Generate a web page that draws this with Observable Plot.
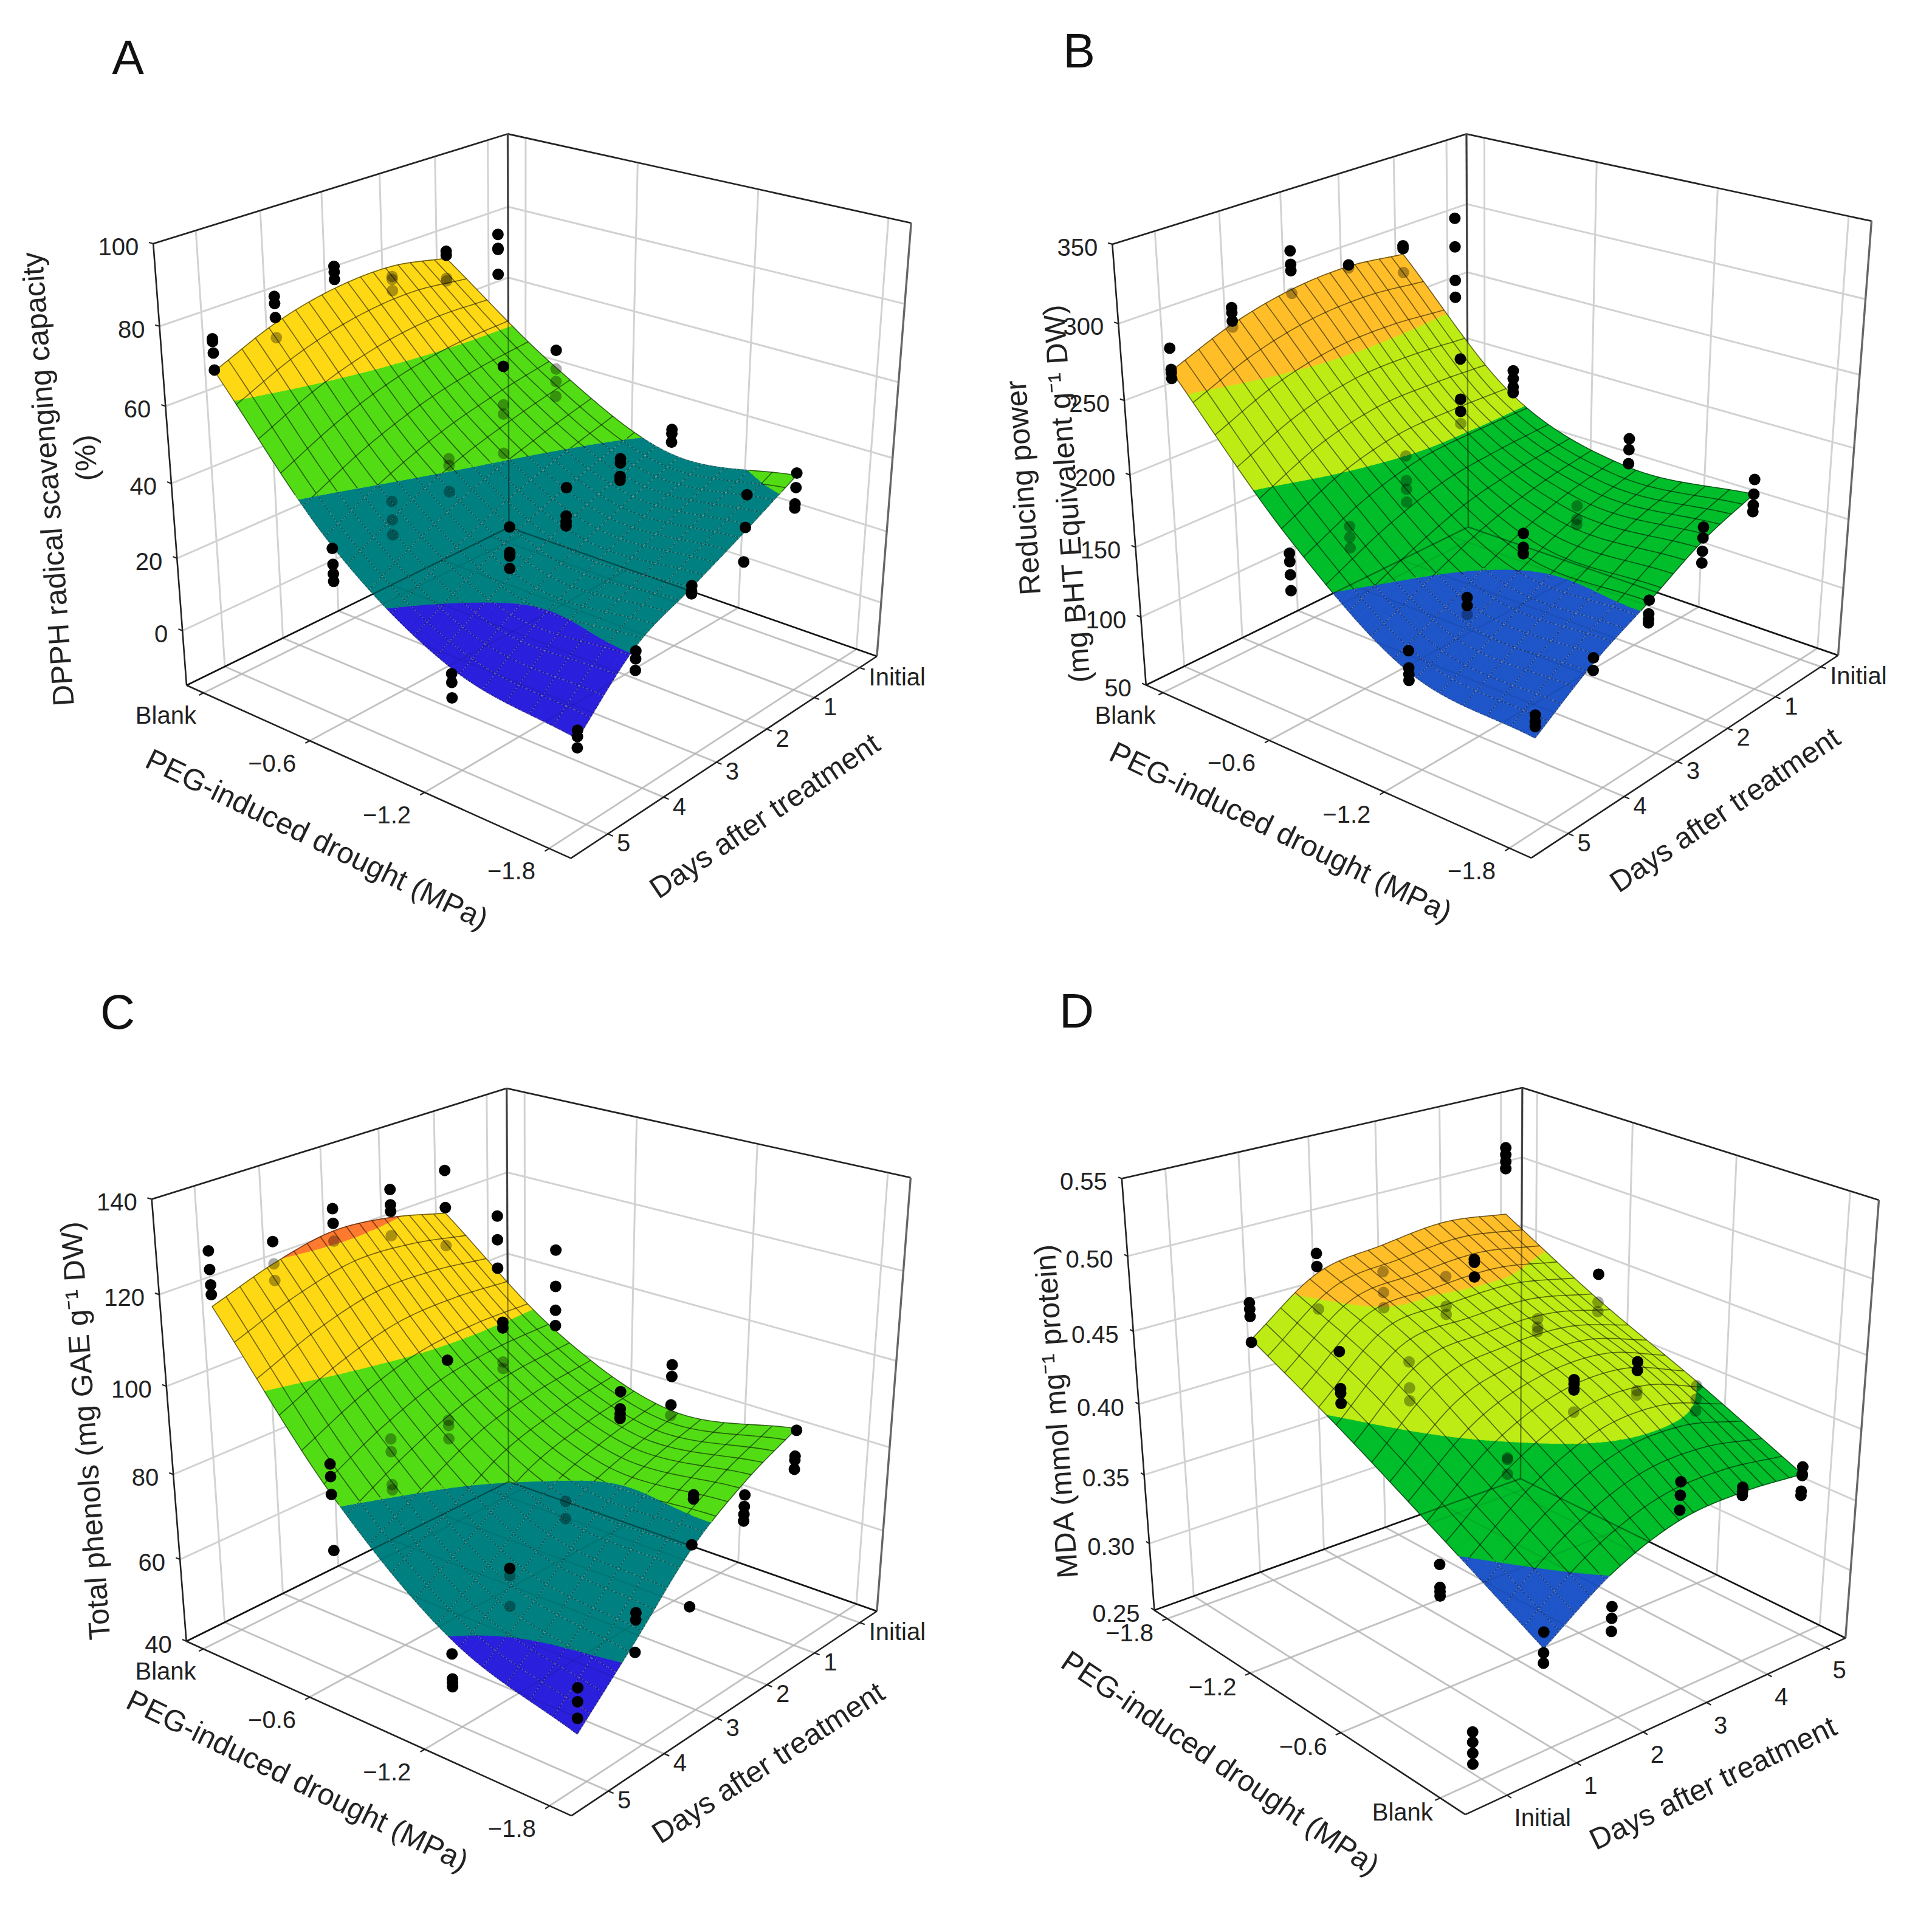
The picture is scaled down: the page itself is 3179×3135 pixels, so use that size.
<!DOCTYPE html>
<html>
<head>
<meta charset="utf-8">
<script src="https://cdn.jsdelivr.net/npm/d3@7"></script>
<script src="https://cdn.jsdelivr.net/npm/@observablehq/plot@0.6"></script>
<style>
html,body{margin:0;padding:0;background:#fff;}
#grid{display:flex;flex-wrap:wrap;width:3179px;}
#grid svg{display:block;}
</style>
</head>
<body>
<div id="grid"></div>
<script>
// shared tick values and labels
const droughtLevels = [0, -0.6, -1.2, -1.8];
const dayLevels = [1, 2, 3, 4, 5];
const droughtTicks = [0, -0.6, -1.2, -1.8];
const droughtLabels = ["Blank", "−0.6", "−1.2", "−1.8"];
const dayTicks = [0, 1, 2, 3, 4, 5];
const dayLabels = ["Initial", "1", "2", "3", "4", "5"];

// fitted surfaces: one row per day (1..5), one column per drought level
const surfaceA = [
  [73.5, 52, 38, 42.5],
  [76.5, 49, 33, 35],
  [76, 45, 27, 28],
  [72.5, 39, 20, 21],
  [66, 31, 11, 6]
];
const surfaceB = [
  [284, 205, 179, 187],
  [289, 206, 170, 174],
  [287, 205, 155, 153],
  [278, 195, 135, 133],
  [262, 176, 116, 106]
];
const surfaceC = [
  [117, 96.5, 86, 90.7],
  [120.5, 96, 83, 85],
  [122, 94, 78, 76.5],
  [119.5, 89, 68, 63],
  [115, 82, 59.5, 50]
];
const surfaceD = [
  [0.319, 0.357, 0.394, 0.427],
  [0.351, 0.394, 0.435, 0.460],
  [0.3685, 0.4145, 0.440, 0.4675],
  [0.371, 0.416, 0.440, 0.472],
  [0.367, 0.400, 0.430, 0.466]
];

// measured replicates: [drought, day, values]
const pointsA = [
  [0,5,[74.2,73.5,70.6,66.3]],[0,4,[79.3,77.5,73.9,68.7]],[0,3,[81.7,80.2,78.3]],[0,2,[73.8,73,70]],[0,1,[75.4,74.3,68,67.3]],[0,0,[75,71.1,70.8,63.8]],
  [-0.6,5,[30.4,26.2,23.7,21.7]],[-0.6,4,[35.5,30.6,26.6]],[-0.6,3,[40,38.2,31.1]],[-0.6,2,[58.3,48,45.5,34.8]],[-0.6,1,[56.7,51.6,48.2,44.1]],
  [-1.2,5,[9.6,7.3,3.2]],[-1.2,4,[39.7,33.2,32.2,29]],[-1.2,3,[42.7,35.3,33.8,32.7]],[-1.2,2,[43.4,42.3,38.7,37.7]],[-1.2,1,[44.6,43.5,41.2]],
  [-1.8,5,[8.2,6.6,3.7]],[-1.8,4,[19.8,17.8,14.8]],[-1.8,3,[28.5,27.1,26.4]],[-1.8,2,[44.4,36,27]],[-1.8,1,[43.1,39.3,35,33.9]]
];
const pointsB = [
  [0,5,[277,263,261,257]],[0,4,[289,285.6,280,276]],[0,3,[313,304,299.7,284.3]],[0,2,[290,288]],[0,1,[290,288,271]],[0,0,[296.6,276,251.5,239]],
  [-0.6,5,[165.7,160,151,140]],[-0.6,4,[165,157.5,150]],[-0.6,3,[195.8,178.5,172.5,163.4]],[-0.6,2,[246.5,218.6,210,201.4]],[-0.6,1,[222.7,217,211,207]],
  [-1.2,5,[130.5,118.8,114.5,110.3]],[-1.2,4,[145.5,140,134]],[-1.2,3,[169.6,160,155.6]],[-1.2,2,[169.8,160.4,156.7]],[-1.2,1,[199,191.4,181.5]],
  [-1.8,5,[121.3,117,113.7]],[-1.8,4,[136.7,128.3]],[-1.8,3,[154,144.8,141.2,138.7]],[-1.8,2,[183.3,176,167,159]],[-1.8,1,[197,187,179.5,175]]
];
const pointsC = [
  [0,5,[127,123,119.7,117.6]],[0,4,[124.3,119.4,115.7]],[0,3,[127,123.7,119.7]],[0,2,[126.9,123.4,121.9,116.3]],[0,1,[127,118.3,109.3]],[0,0,[111.8,106,99]],
  [-0.6,5,[88.8,86,82,69.2]],[-0.6,4,[88.3,85.4,77.8,76.6]],[-0.6,3,[100.4,86.6,85.4,82.3]],[-0.6,2,[103.7,102.4,94.5,93]],[-0.6,1,[115.3,106.9,101.3,97.7]],
  [-1.2,5,[56.3,50.5,49.6,48.7]],[-1.2,4,[68.6,66.9,59.8]],[-1.2,3,[77.2,73.2]],[-1.2,2,[96.1,92.2,91,90]],[-1.2,1,[96.6,93.9,87.3,84.8]],
  [-1.8,5,[60.4,57.3,53.6]],[-1.8,4,[69.4,67.8,60.5]],[-1.8,3,[88.4,87.5,77.4,63.4]],[-1.8,2,[81.9,79.3,77.5,76]],[-1.8,1,[90.3,84.4,83.5,81.4]]
];
const pointsD = [
  [-1.8,1,[0.4525,0.448,0.443,0.425]],[-1.8,2,[0.4738,0.4648,0.4348]],[-1.8,3,[0.4485,0.4335,0.4225]],[-1.8,4,[0.4323,0.4103,0.4043]],[-1.8,5,[0.514,0.509,0.504,0.499]],
  [-1.2,1,[0.448,0.423,0.42,0.413]],[-1.2,2,[0.4268,0.4088,0.3998]],[-1.2,3,[0.4835,0.4815,0.4715]],[-1.2,4,[0.4293,0.4233,0.4203]],[-1.2,5,[0.448,0.428,0.421]],
  [-0.6,1,[0.337,0.321,0.318,0.315]],[-0.6,2,[0.3928,0.3918,0.3818]],[-0.6,3,[0.4305,0.4275,0.4235,0.4085]],[-0.6,4,[0.4283,0.4223,0.4083,0.4053]],[-0.6,5,[0.397,0.3875,0.379]],
  [0,0,[0.283,0.276,0.2685,0.261]],[0,1,[0.33,0.316,0.309]],[0,2,[0.328,0.32,0.311]],[0,3,[0.3945,0.3855,0.3755]],[0,4,[0.3743,0.3713,0.3688]],[0,5,[0.372,0.367,0.366,0.355,0.352]]
];

// value ticks
const valueTicksA = [0, 20, 40, 60, 80, 100];
const valueTicksB = [50, 100, 150, 200, 250, 300, 350];
const valueTicksC = [40, 60, 80, 100, 120, 140];
const valueTicksD = [0.25, 0.30, 0.35, 0.40, 0.45, 0.50, 0.55];

const blue1 = "#2a1fdc", teal = "#008080", green1 = "#52dc14", yellow = "#ffd814", orange1 = "#ff7a2e";
const blue2 = "#1e55c8", green2 = "#00bd2a", lime = "#bdec14", orange2 = "#ffbe28";

// corner order: left-bottom, front-bottom, right-bottom, back-bottom, left-top, right-top, back-top
const panels = [
  {letter:"A", origin:[0,0], size:[1590,1568], letterAt:[210,96],
   corners:[[307,1125],[940,1413],[1443,1079],[835,869],[250,402],[1497,366],[838,219]],
   droughtDomain:[0.1,-1.9], daysDomain:[5.633,-0.392], dataDrought:[0.058,-1.942], dataDays:[5.62,-0.404], valueDomain:[-15.5,100],
   surface:surfaceA, points:pointsA, valueTicks:valueTicksA, fmt:d=>String(d),
   thresholds:[20,40,60], colors:[blue1,teal,green1,yellow], dark:40,
   titles:[["DPPH radical scavenging capacity",-201,7],["(%)",-139,-28]],
   droughtTitle:[-81,121,25.8], daysTitle:[48,110,-34],
   droughtLabel:[-62,38], dayLabel:[15,16]},
  {letter:"B", origin:[1590,0], size:[1589,1568], letterAt:[185,85],
   corners:[[1886,1125],[2519,1413],[3025,1076],[2414,869],[1829,402],[3078,364],[2414,219]],
   droughtDomain:[0.1,-1.9], daysDomain:[5.633,-0.392], dataDrought:[0.052,-1.948], dataDays:[5.6,-0.42], valueDomain:[50,350],
   surface:surfaceB, points:pointsB, valueTicks:valueTicksB, fmt:d=>String(d),
   thresholds:[150,200,250], colors:[blue2,green2,lime,orange2], dark:150,
   titles:[["Reducing power",-175,21],["(mg BHT Equivalent g⁻¹ DW)",-103,31]],
   droughtTitle:[-74,110,25.8], daysTitle:[47,101,-34],
   droughtLabel:[-62,38], dayLabel:[15,16]},
  {letter:"C", origin:[0,1568], size:[1590,1567], letterAt:[193,99],
   corners:[[307,2701],[940,2987],[1443,2652],[835,2437],[248,1973],[1497,1937],[835,1791]],
   droughtDomain:[0.1,-1.9], daysDomain:[5.633,-0.392], dataDrought:[0.058,-1.942], dataDays:[5.62,-0.404], valueDomain:[40,140],
   surface:surfaceC, points:pointsC, valueTicks:valueTicksC, fmt:d=>String(d),
   thresholds:[60,80,100,120], colors:[blue1,teal,green1,yellow,orange1], dark:80,
   titles:[["Total phenols (mg GAE g⁻¹ DW)",-138,0]],
   droughtTitle:[-113,96,26], daysTitle:[53,95,-33],
   droughtLabel:[-62,38], dayLabel:[15,16]},
  {letter:"D", origin:[1590,1568], size:[1589,1567], letterAt:[181,97],
   corners:[[1898,2650],[2411,2985],[3035,2696],[2503,2432],[1846,1939],[3092,1974],[2503,1790]],
   droughtDomain:[-1.898,0.143], daysDomain:[-0.575,5.356], dataDrought:[-1.865,0.158], dataDays:[-0.492,5.439], valueDomain:[0.25,0.55],
   surface:surfaceD, points:pointsD, valueTicks:valueTicksD, fmt:d=>d.toFixed(2),
   thresholds:[0.35,0.40,0.45], colors:[blue2,green2,lime,orange2], dark:0.35,
   titles:[["MDA (mmol mg⁻¹ protein)",-135,12]],
   droughtTitle:[-128,97,34], daysTitle:[74,104,-25.7],
   droughtLabel:[-62,24], dayLabel:[12,38]}
];

// Least-squares camera from the seven visible box corners
function solveCamera(corners) {
  const cube = [[0,0,0],[1,0,0],[1,1,0],[0,1,0],[0,0,1],[1,1,1],[0,1,1]];
  const A = [], B = [];
  cube.forEach(([s,t,r],i) => {
    const [x,y] = corners[i];
    A.push([s,t,r,1,0,0,0,0,-x*s,-x*t,-x*r]); B.push(x);
    A.push([0,0,0,0,s,t,r,1,-y*s,-y*t,-y*r]); B.push(y);
  });
  const n = 11;
  const M = Array.from({length:n},(_,i)=>{
    const row = new Array(n+1).fill(0);
    for (let j=0;j<n;j++) for (let k=0;k<A.length;k++) row[j]+=A[k][i]*A[k][j];
    for (let k=0;k<A.length;k++) row[n]+=A[k][i]*B[k];
    return row;
  });
  for (let i=0;i<n;i++){
    let p=i; for(let k=i+1;k<n;k++) if(Math.abs(M[k][i])>Math.abs(M[p][i])) p=k;
    [M[i],M[p]]=[M[p],M[i]];
    for(let k=0;k<n;k++){ if(k===i) continue; const f=M[k][i]/M[i][i]; for(let j=i;j<=n;j++) M[k][j]-=f*M[i][j]; }
  }
  const c = M.map((r,i)=>r[n]/r[i]);
  return (s,t,r)=>{
    const w=c[8]*s+c[9]*t+c[10]*r+1;
    return [(c[0]*s+c[1]*t+c[2]*r+c[3])/w,(c[4]*s+c[5]*t+c[6]*r+c[7])/w];
  };
}

function catmull(p, x) {
  const n=p.length, i=Math.min(Math.floor(x),n-2), f=x-i;
  const a=i>0?p[i-1]:2*p[0]-p[1], b=p[i], c=p[i+1], d=i+2<n?p[i+2]:2*p[n-1]-p[n-2];
  return 0.5*((2*b)+(c-a)*f+(2*a-5*b+4*c-d)*f*f+(3*b-a-3*c+d)*f*f*f);
}

function clipBand(poly, level, above) {
  const out=[];
  for(let i=0;i<poly.length;i++){
    const a=poly[i], b=poly[(i+1)%poly.length];
    const ina=above?a.w>=level:a.w<=level, inb=above?b.w>=level:b.w<=level;
    if(ina) out.push(a);
    if(ina!==inb){
      const f=(level-a.w)/(b.w-a.w);
      out.push({u:a.u+f*(b.u-a.u),v:a.v+f*(b.v-a.v),w:level});
    }
  }
  return out;
}

function makePanel(cfg) {
  const cam = solveCamera(cfg.corners);
  const S = d3.scaleLinear().domain(cfg.droughtDomain).range([0,1]);
  const T = d3.scaleLinear().domain(cfg.daysDomain).range([0,1]);
  const R = d3.scaleLinear().domain(cfg.valueDomain).range([0,1]);
  const Sd = d3.scaleLinear().domain(cfg.dataDrought).range([0,1]);
  const Td = d3.scaleLinear().domain(cfg.dataDays).range([0,1]);
  const toPx = (uIdx,day,val)=>cam(Sd(-0.6*uIdx),Td(day),R(val));
  const surf = (uIdx,vIdx)=>catmull(cfg.surface.map(r=>catmull(r,uIdx)),vIdx);
  const seg = (a,b,extra)=>{
    const p=cam(...a), q=cam(...b);
    return {x1:p[0],y1:p[1],x2:q[0],y2:q[1],...extra};
  };
  const sT=droughtTicks.map(d=>S(d)), tT=dayTicks.map(d=>T(d)), rT=cfg.valueTicks.map(d=>R(d));

  // grid on floor and walls
  const grid=[];
  sT.forEach(s=>{grid.push(seg([s,0,0],[s,1,0])); grid.push(seg([s,1,0],[s,1,1]));});
  tT.forEach(t=>{grid.push(seg([0,t,0],[1,t,0])); grid.push(seg([0,t,0],[0,t,1]));});
  rT.forEach(r=>{grid.push(seg([0,0,r],[0,1,r])); grid.push(seg([0,1,r],[1,1,r]));});
  const floorGrid=[];
  sT.forEach(s=>floorGrid.push(seg([s,0,0],[s,1,0])));
  tT.forEach(t=>floorGrid.push(seg([0,t,0],[1,t,0])));

  const frame=[
    seg([0,0,0],[1,0,0]),seg([1,0,0],[1,1,0]),seg([0,0,0],[0,1,0]),seg([0,1,0],[1,1,0]),
    seg([0,0,0],[0,0,1]),seg([0,0,1],[0,1,1]),seg([0,1,1],[1,1,1])
  ];
  const frameGray=[seg([0,1,0],[0,1,1]),seg([1,1,0],[1,1,1])];
  const through=[seg([0,0,0],[0,1,0]),seg([0,1,0],[1,1,0]),seg([0,1,0],[0,1,1])];
  const ticks=[];
  sT.forEach(s=>ticks.push(seg([s,0,0],[s,-0.012,0])));
  tT.forEach(t=>ticks.push(seg([1,t,0],[1.012,t,0])));
  rT.forEach(r=>ticks.push(seg([0,0,r],[-0.012,0,r])));

  // surface polygons split at the colour thresholds
  const nU=16,nV=18,sub=3,NU=nU*sub,NV=nV*sub;
  const cell=[];
  for(let i=0;i<=NU;i++){cell[i]=[];for(let j=0;j<=NV;j++){
    const u=3*i/NU,v=4*j/NV; cell[i][j]={u,v,w:surf(u,v)};
  }}
  const order=[];
  for(let i=0;i<NU;i++)for(let j=0;j<NV;j++){
    const m=cell[i][j];
    order.push({i,j,depth:Sd(-0.6*(m.u+1.5/NU))-Td(m.v+1)});
  }
  order.sort((a,b)=>a.depth-b.depth);
  const lims=[-Infinity,...cfg.thresholds,Infinity];
  const polys=[]; let pid=0;
  order.forEach(({i,j})=>{
    const q=[cell[i][j],cell[i+1][j],cell[i+1][j+1],cell[i][j+1]];
    for(let b=0;b<lims.length-1;b++){
      let p=q;
      if(isFinite(lims[b])) p=clipBand(p,lims[b],true);
      if(p.length&&isFinite(lims[b+1])) p=clipBand(p,lims[b+1],false);
      if(p.length>=3){
        const band=isFinite(lims[b])?lims[b]:lims[b+1]-1;
        pid++;
        p.forEach(a=>{const [x,y]=toPx(a.u,a.v+1,a.w);polys.push({x,y,id:pid,band});});
      }
    }
  });

  // mesh lines
  const meshBright=[],meshDark=[];
  const pushSeg=(a,b)=>{
    const p=toPx(a.u,a.v+1,a.w),q=toPx(b.u,b.v+1,b.w);
    ((a.w+b.w)/2<cfg.dark?meshDark:meshBright).push({x1:p[0],y1:p[1],x2:q[0],y2:q[1]});
  };
  for(let i=0;i<=NU;i+=sub)for(let j=0;j<NV;j++)pushSeg(cell[i][j],cell[i][j+1]);
  for(let j=0;j<=NV;j+=sub)for(let i=0;i<NU;i++)pushSeg(cell[i][j],cell[i+1][j]);

  // outline of the surface for the occlusion test
  const outline=[];
  for(let i=0;i<=NU;i++){const a=cell[i][0];outline.push(toPx(a.u,a.v+1,a.w));}
  for(let j=0;j<=NV;j++){const a=cell[NU][j];outline.push(toPx(a.u,a.v+1,a.w));}
  for(let i=NU;i>=0;i--){const a=cell[i][NV];outline.push(toPx(a.u,a.v+1,a.w));}
  for(let j=NV;j>=0;j--){const a=cell[0][j];outline.push(toPx(a.u,a.v+1,a.w));}

  const dotsFront=[],dotsHidden=[];
  cfg.points.forEach(([d,day,vals])=>{
    const uIdx=d/-0.6;
    vals.forEach(val=>{
      const [x,y]=toPx(uIdx,day,val);
      const hidden=day>=1&&val<surf(uIdx,day-1)&&d3.polygonContains(outline,[x,y]);
      (hidden?dotsHidden:dotsFront).push({x,y});
    });
  });

  const droughtTickText=droughtTicks.map((d,i)=>{const [x,y]=cam(S(d),0,0);return {x,y,text:droughtLabels[i]};});
  const dayTickText=dayTicks.map((d,i)=>{const [x,y]=cam(1,T(d),0);return {x,y,text:dayLabels[i]};});
  const valueTickText=cfg.valueTicks.map(d=>{const [x,y]=cam(0,0,R(d));return {x,y,text:cfg.fmt(d)};});
  const px=(a)=>{const [x,y]=cam(...a);return {x,y};};

  const [W,H]=cfg.size,[ox,oy]=cfg.origin;
  const textColor="#222";
  const tf=49, lf=40;
  const marks=[
    Plot.link(grid,{x1:"x1",y1:"y1",x2:"x2",y2:"y2",stroke:"#d2d2d2",strokeWidth:3}),
    Plot.link(frame,{x1:"x1",y1:"y1",x2:"x2",y2:"y2",stroke:"#222",strokeWidth:2.6}),
    Plot.link(frameGray,{x1:"x1",y1:"y1",x2:"x2",y2:"y2",stroke:"#666",strokeWidth:3.4}),
    Plot.link(ticks,{x1:"x1",y1:"y1",x2:"x2",y2:"y2",stroke:"#222",strokeWidth:2.2}),
    Plot.line(polys,{x:"x",y:"y",z:"id",fill:"band",stroke:"band",strokeWidth:1,curve:"linear-closed"}),
    Plot.link(floorGrid,{x1:"x1",y1:"y1",x2:"x2",y2:"y2",stroke:"#000",strokeOpacity:0.08,strokeWidth:2.5}),
    Plot.link(through,{x1:"x1",y1:"y1",x2:"x2",y2:"y2",stroke:"#000",strokeOpacity:0.4,strokeWidth:2.4}),
    Plot.link(meshBright,{x1:"x1",y1:"y1",x2:"x2",y2:"y2",stroke:"#000",strokeOpacity:0.55,strokeWidth:1.6}),
    Plot.link(meshDark,{x1:"x1",y1:"y1",x2:"x2",y2:"y2",stroke:"#000",strokeOpacity:0.28,strokeWidth:1.6}),
    Plot.link(meshDark,{x1:"x1",y1:"y1",x2:"x2",y2:"y2",stroke:"#fff",strokeOpacity:0.32,strokeWidth:1.6,strokeDasharray:"2,4"}),
    Plot.dot(dotsHidden,{x:"x",y:"y",r:9.5,fill:"#000",fillOpacity:0.33,stroke:"none"}),
    Plot.dot(dotsFront,{x:"x",y:"y",r:9.5,fill:"#000",stroke:"none"}),
    Plot.text(droughtTickText,{x:"x",y:"y",text:"text",dx:cfg.droughtLabel[0],dy:cfg.droughtLabel[1],fontSize:lf,fill:textColor,textAnchor:"middle"}),
    Plot.text(dayTickText,{x:"x",y:"y",text:"text",dx:cfg.dayLabel[0],dy:cfg.dayLabel[1],fontSize:lf,fill:textColor,textAnchor:"start"}),
    Plot.text(valueTickText,{x:"x",y:"y",text:"text",dx:-24,dy:6,fontSize:lf,fill:textColor,textAnchor:"end"}),
    Plot.text(["PEG-induced drought (MPa)"],{x:[px([0.5,0,0]).x],y:[px([0.5,0,0]).y],text:d=>d,dx:cfg.droughtTitle[0],dy:cfg.droughtTitle[1],rotate:cfg.droughtTitle[2],fontSize:tf,fill:textColor}),
    Plot.text(["Days after treatment"],{x:[px([1,0.5,0]).x],y:[px([1,0.5,0]).y],text:d=>d,dx:cfg.daysTitle[0],dy:cfg.daysTitle[1],rotate:cfg.daysTitle[2],fontSize:tf,fill:textColor}),
    Plot.text([cfg.letter],{frameAnchor:"top-left",text:d=>d,dx:cfg.letterAt[0],dy:cfg.letterAt[1],fontSize:79,fill:"#111",textAnchor:"middle",lineAnchor:"middle"})
  ];
  cfg.titles.forEach(([t,dx,dy])=>{
    const m=px([0,0,0.5]);
    marks.push(Plot.text([t],{x:[m.x],y:[m.y],text:d=>d,dx,dy,rotate:-94,fontSize:tf,fill:textColor}));
  });
  return Plot.plot({
    width:W,height:H,margin:0,
    x:{domain:[ox,ox+W],range:[0,W],axis:null},
    y:{domain:[oy,oy+H],range:[0,H],axis:null},
    color:{type:"threshold",domain:cfg.thresholds,range:cfg.colors},
    style:{fontFamily:"'Liberation Sans',Arial,sans-serif",background:"#fff",overflow:"visible"},
    marks
  });
}

const host=document.getElementById("grid");
panels.forEach(p=>host.appendChild(makePanel(p)));
</script>
</body>
</html>
